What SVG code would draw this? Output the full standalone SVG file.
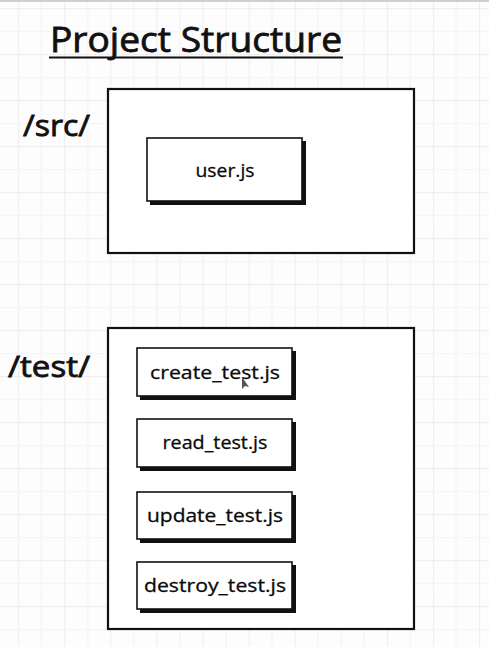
<svg xmlns="http://www.w3.org/2000/svg" width="489" height="647" viewBox="0 0 489 647">
<defs>
<pattern id="grid" patternUnits="userSpaceOnUse" x="18" y="8" width="46.1" height="46">
<line x1="0.5" y1="0" x2="0.5" y2="46" stroke="#efefef" stroke-width="1.5"/>
<line x1="23.55" y1="0" x2="23.55" y2="46" stroke="#f5f5f5" stroke-width="1.5"/>
<line x1="0" y1="0.5" x2="46.1" y2="0.5" stroke="#efefef" stroke-width="1.5"/>
<line x1="0" y1="23.5" x2="46.1" y2="23.5" stroke="#f5f5f5" stroke-width="1.5"/>
</pattern>
<style>
.lbl{font-family:"Open Sans","Liberation Sans",sans-serif;fill:#111;stroke:#111;stroke-width:0.8;}
.outer{fill:#fff;stroke:#111;stroke-width:2.2;}
.shadow{fill:#111;}
.file{fill:#fff;stroke:#111;stroke-width:1.6;}
.ftxt{font-family:"Open Sans","Liberation Sans",sans-serif;font-size:19px;fill:#0a0a0a;stroke:#0a0a0a;stroke-width:0.3;text-anchor:middle;}
</style>
</defs>
<rect width="489" height="647" fill="#fdfdfd"/>
<rect width="489" height="647" fill="url(#grid)"/>
<line x1="0" y1="1" x2="489" y2="1" stroke="#cfcfcf" stroke-width="2"/>

<g id="title">
<text class="lbl" x="50" y="52" font-size="34" textLength="292" lengthAdjust="spacingAndGlyphs">Project Structure</text>
<line x1="49" y1="57.5" x2="343" y2="57.5" stroke="#111" stroke-width="2"/>
</g>

<g id="src-label"><text class="lbl" x="23" y="136" font-size="29" textLength="67" lengthAdjust="spacingAndGlyphs">/src/</text></g>
<g id="src">
<rect class="outer" x="108" y="89" width="306" height="164"/>
</g>
<g id="user-js">
<rect class="shadow" x="150" y="141" width="156" height="64"/>
<rect class="file" x="147" y="138" width="155" height="63"/>
<text class="ftxt" x="225" y="177" textLength="59" lengthAdjust="spacingAndGlyphs">user.js</text>
</g>

<g id="test-label"><text class="lbl" x="8" y="377" font-size="29" textLength="82" lengthAdjust="spacingAndGlyphs">/test/</text></g>
<g id="test">
<rect class="outer" x="108" y="328" width="306" height="301"/>
</g>
<g id="create-test">
<rect class="shadow" x="140" y="351" width="156" height="49"/>
<rect class="file" x="137" y="348" width="155" height="48"/>
<text class="ftxt" x="215" y="379" textLength="130" lengthAdjust="spacingAndGlyphs">create_test.js</text>
</g>
<g id="read-test">
<rect class="shadow" x="140" y="422" width="156" height="49"/>
<rect class="file" x="137" y="419" width="155" height="48"/>
<text class="ftxt" x="215" y="449" textLength="105" lengthAdjust="spacingAndGlyphs">read_test.js</text>
</g>
<g id="update-test">
<rect class="shadow" x="140" y="495" width="156" height="48"/>
<rect class="file" x="137" y="492" width="155" height="47"/>
<text class="ftxt" x="215" y="522" textLength="136" lengthAdjust="spacingAndGlyphs">update_test.js</text>
</g>
<g id="destroy-test">
<rect class="shadow" x="140" y="565" width="156" height="48"/>
<rect class="file" x="137" y="562" width="155" height="47"/>
<text class="ftxt" x="215" y="592" textLength="142" lengthAdjust="spacingAndGlyphs">destroy_test.js</text>
</g>

<path d="M242 377 L242 389 L245 386 L249 387 Z" fill="#555"/>
</svg>
